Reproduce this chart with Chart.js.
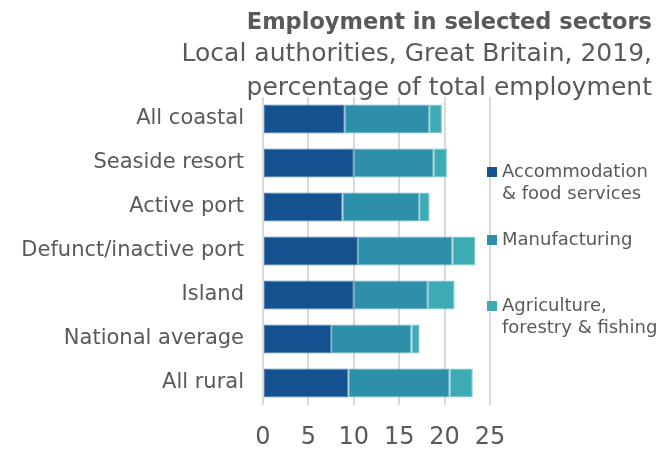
<!DOCTYPE html>
<html>
<head>
<meta charset="utf-8">
<script src="https://cdn.jsdelivr.net/npm/chart.js@4.4.1/dist/chart.umd.min.js"></script>
<style>
  html, body { margin: 0; padding: 0; background: #fff; }
  #wrap { width: 661px; height: 450px; }
</style>
</head>
<body>
<div id="wrap"><canvas id="chart" width="661" height="450"></canvas></div>
<script>
// Data
const categories = ['All coastal', 'Seaside resort', 'Active port', 'Defunct/inactive port', 'Island', 'National average', 'All rural'];
const accommodation = [9.0, 10.0, 8.75, 10.45, 10.0, 7.5, 9.4];
const manufacturing = [9.3, 8.8, 8.45, 10.4, 8.15, 8.85, 11.15];
const agriculture = [1.4, 1.45, 1.15, 2.5, 2.95, 0.9, 2.55];
const seriesNames = [['Accommodation', '& food services'], ['Manufacturing'], ['Agriculture,', 'forestry & fishing']];
const xTicks = [0, 5, 10, 15, 20, 25];

const FONT = '"DejaVu Sans"';
const TEXT = '#595959';
const colors = ['#13528f', '#2e8fab', '#3dabb4'];
const edges = ['#4f7fb0', '#6db3c6', '#7cc6cc'];

// Draw legend on the right side (multi-line labels)
const sideLegend = {
    id: 'sideLegend',
    afterDraw(chart) {
        const ctx = chart.ctx;
        const area = chart.chartArea;
        const rows = [area.top + 75, area.top + 143, area.top + 209];
        ctx.save();
        ctx.font = '18px ' + FONT;
        ctx.textBaseline = 'middle';
        ctx.textAlign = 'left';
        seriesNames.forEach((lines, i) => {
            const y = rows[i];
            ctx.fillStyle = colors[i];
            ctx.fillRect(area.right - 3, y - 5, 10, 10);
            ctx.fillStyle = TEXT;
            lines.forEach((line, j) => {
                ctx.fillText(line, area.right + 12, y + j * 22);
            });
        });
        ctx.restore();
    }
};

function makeDataset(idx, values) {
    return {
        label: seriesNames[idx].join(' '),
        data: values,
        backgroundColor: colors[idx],
        borderColor: edges[idx],
        borderWidth: 1,
        borderSkipped: false,
        barPercentage: 0.66,
        categoryPercentage: 1
    };
}

new Chart(document.getElementById('chart'), {
    type: 'bar',
    data: {
        labels: categories,
        datasets: [
            makeDataset(0, accommodation),
            makeDataset(1, manufacturing),
            makeDataset(2, agriculture)
        ]
    },
    options: {
        indexAxis: 'y',
        responsive: false,
        animation: false,
        layout: { padding: { left: 0, right: 9, top: 0, bottom: 0 } },
        plugins: {
            legend: { display: false },
            tooltip: { enabled: false },
            title: {
                display: true,
                text: 'Employment in selected sectors',
                align: 'end',
                color: TEXT,
                font: { family: FONT, size: 22.5, weight: 'bold', lineHeight: 1.2 },
                padding: { top: 10, bottom: 0 }
            },
            subtitle: {
                display: true,
                text: ['Local authorities, Great Britain, 2019,', 'percentage of total employment'],
                align: 'end',
                color: TEXT,
                font: { family: FONT, size: 25, lineHeight: 1.38 },
                padding: { top: 0, bottom: -9 }
            }
        },
        scales: {
            x: {
                stacked: true,
                min: 0,
                max: 25,
                afterBuildTicks(scale) {
                    scale.ticks = xTicks.map(v => ({ value: v }));
                },
                grid: { color: '#d9d9d9', lineWidth: 2, drawTicks: false },
                border: { display: false },
                ticks: {
                    color: TEXT,
                    padding: 21,
                    font: { family: FONT, size: 24, lineHeight: 1 }
                },
                afterFit(scale) { scale.height = 45; }
            },
            y: {
                stacked: true,
                grid: { display: false, drawTicks: false },
                border: { display: false },
                ticks: {
                    color: TEXT,
                    padding: 19,
                    font: { family: FONT, size: 21 }
                },
                afterFit(scale) { scale.width = 263; }
            },
            pad: {
                type: 'linear',
                axis: 'y',
                position: 'right',
                display: true,
                grid: { display: false },
                border: { display: false },
                ticks: { display: false },
                afterFit(scale) { scale.width = 162; }
            }
        }
    },
    plugins: [sideLegend]
});
</script>
</body>
</html>
